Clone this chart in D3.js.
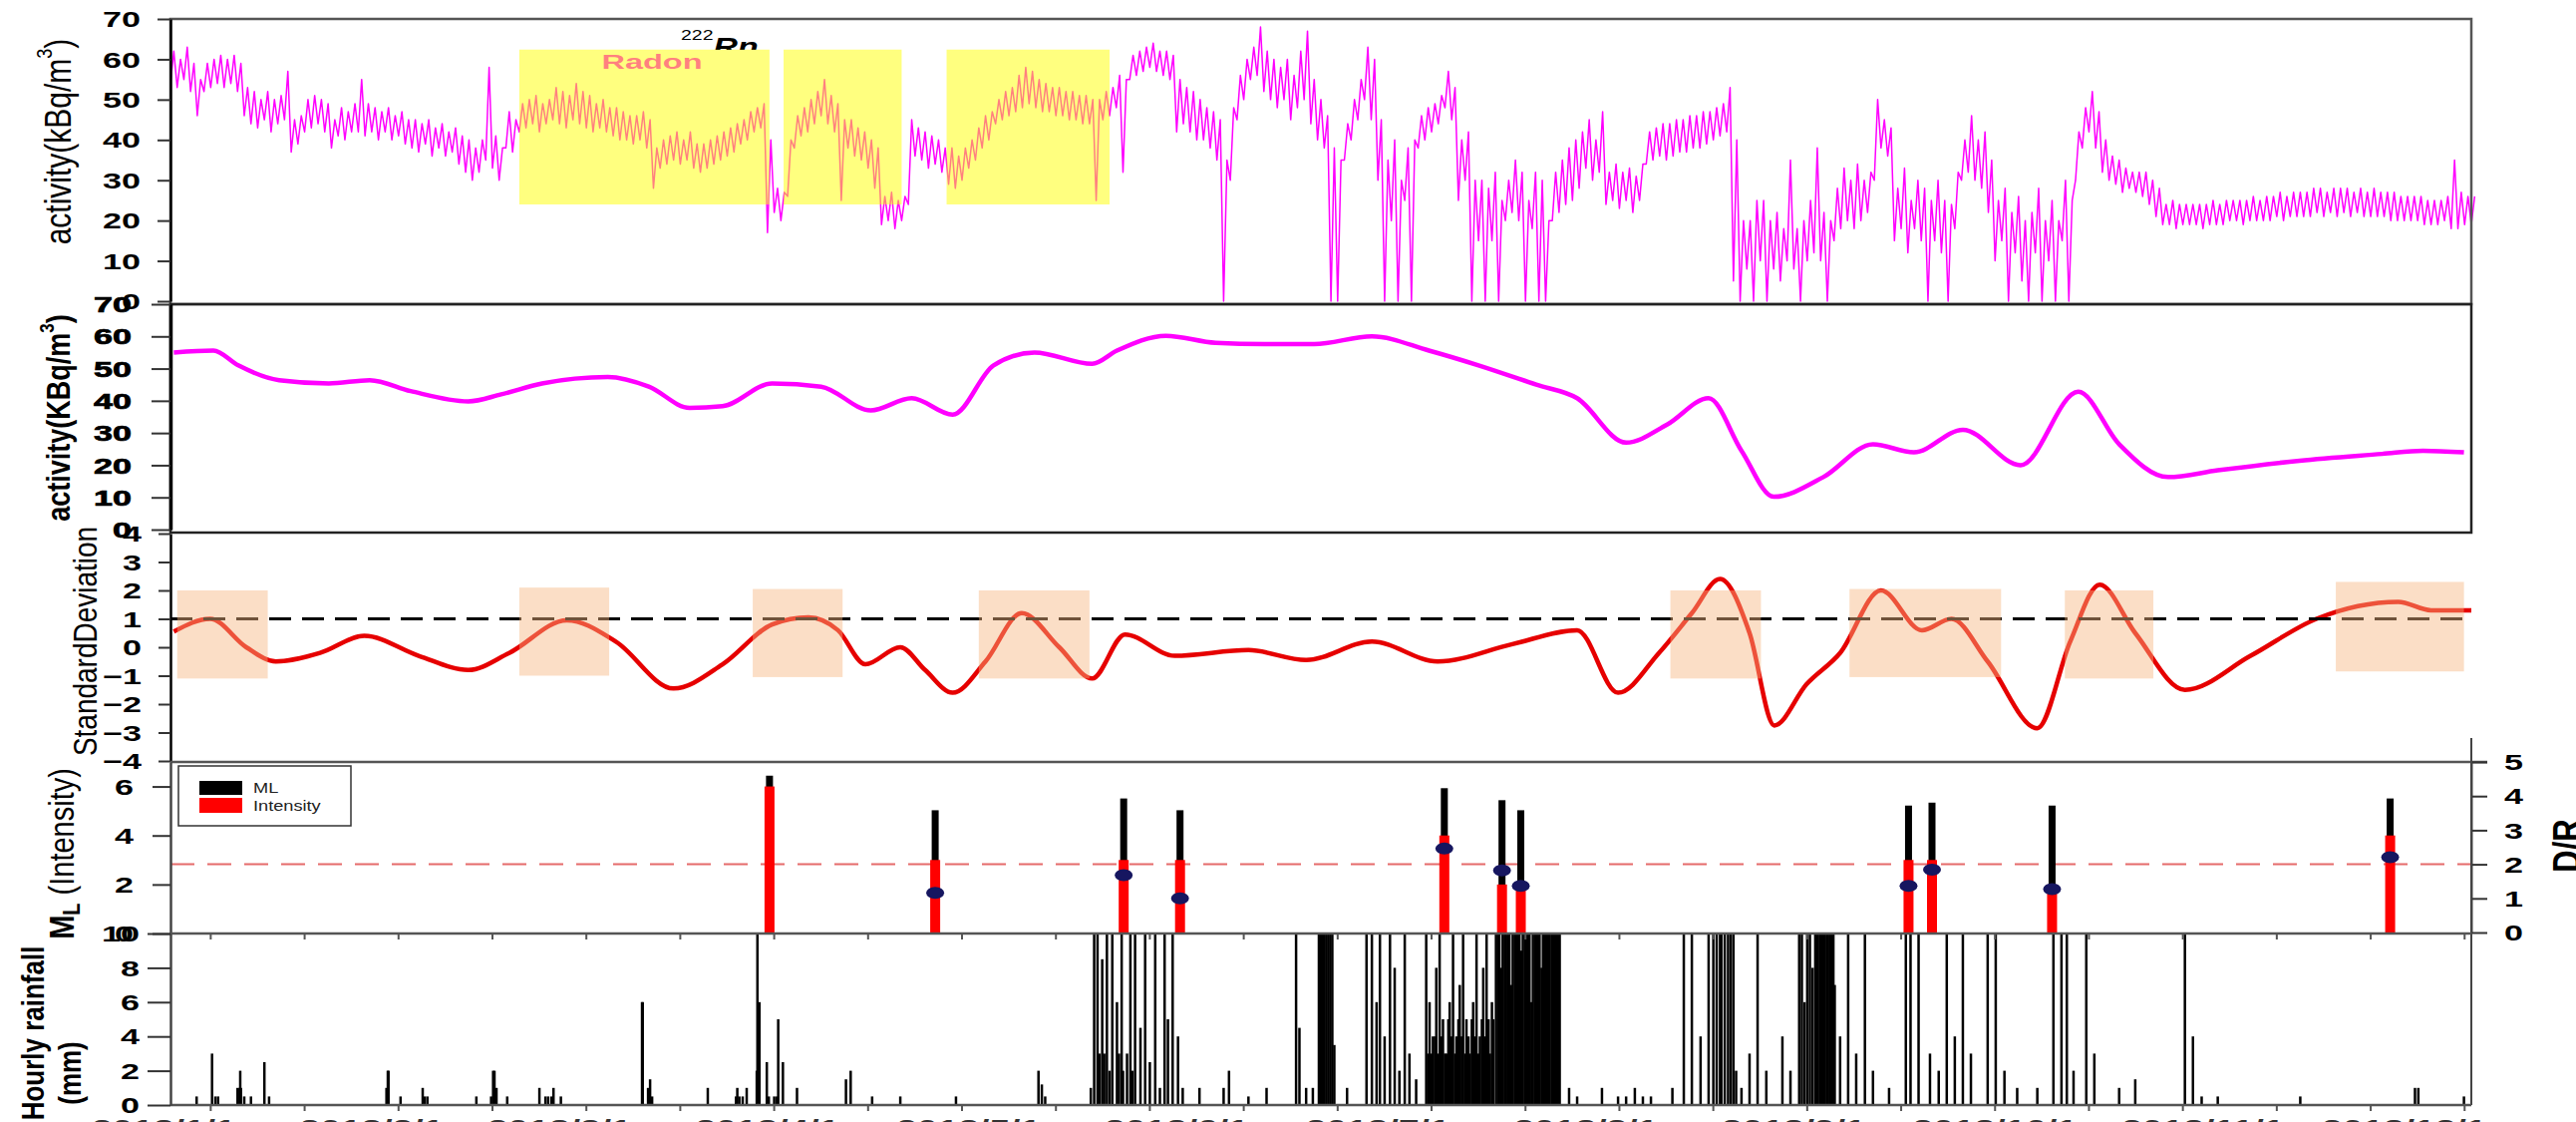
<!DOCTYPE html>
<html><head><meta charset="utf-8">
<script src="https://cdn.jsdelivr.net/npm/d3@7"></script>
<style>html,body{margin:0;padding:0;background:#fff;overflow:hidden}svg{display:block}</style>
</head><body>
<svg id="c" width="2584" height="1125"></svg>
<script>
// ---------------- DATA ----------------
// raw 222Rn activity (kBq/m3): daily [low, high] readings, day index 0..343
const radonRaw = [
/*0*/ [54,62],[53,60],[55,63],[52,59],[46,55],[52,59],[53,60],[54,61],[53,60],[54,61],
/*10*/[52,59],[46,53],[44,52],[43,50],[45,52],[42,50],[44,51],[45,57],[37,45],[39,46],
/*20*/[42,50],[43,51],[44,50],[42,49],[38,45],[41,48],[40,47],[42,49],[42,55],[41,49],
/*30*/[42,48],[40,47],[42,48],[40,46],[41,47],[39,45],[38,45],[37,44],[39,45],[36,43],
/*40*/[38,44],[36,42],[37,43],[34,41],[32,40],[30,38],[32,40],[35,58],[33,41],[30,38],
/*50*/[38,47],[37,45],[42,49],[43,50],[44,51],[42,49],[44,50],[45,53],[44,52],[43,51],
/*60*/[45,54],[44,52],[43,51],[42,49],[43,50],[42,48],[41,48],[40,47],[40,46],[39,46],
/*70*/[40,47],[38,45],[28,38],[33,40],[34,41],[35,42],[34,40],[35,42],[33,39],[32,39],
/*80*/[33,40],[34,41],[35,42],[36,43],[37,44],[39,45],[40,47],[42,48],[43,49],[17,40],
/*90*/[22,28],[20,27],[26,40],[38,46],[41,48],[42,50],[44,52],[46,55],[44,51],[42,49],
/*100*/[25,45],[38,45],[36,43],[35,42],[33,40],[28,38],[19,26],[20,27],[18,25],[20,26],
/*110*/[24,45],[36,43],[35,42],[33,41],[34,40],[32,38],[29,38],[28,36],[30,38],[33,40],
/*120*/[35,43],[38,46],[40,47],[44,50],[45,52],[46,53],[47,56],[48,58],[49,57],[48,55],
/*130*/[47,54],[47,53],[46,53],[46,52],[45,52],[45,51],[44,51],[44,50],[25,50],[45,52],
/*140*/[46,53],[48,56],[32,55],[55,61],[56,62],[57,63],[58,64],[57,62],[56,62],[55,61],
/*150*/[42,55],[44,53],[42,52],[40,50],[40,48],[38,47],[35,45],[0,35],[30,48],[45,56],
/*160*/[50,60],[55,63],[56,68],[52,62],[50,60],[48,58],[50,60],[45,56],[48,62],[50,67],
/*170*/[44,55],[40,50],[38,46],[0,38],[0,35],[35,44],[40,50],[45,55],[50,63],[45,60],
/*180*/[30,45],[0,35],[20,40],[0,30],[25,38],[0,40],[38,46],[40,48],[42,49],[44,51],
/*190*/[48,57],[45,53],[25,40],[30,42],[0,30],[15,30],[0,28],[15,32],[0,25],[20,30],
/*200*/[22,35],[20,32],[0,25],[18,32],[0,30],[0,20],[20,32],[22,35],[24,38],[25,40],
/*210*/[28,42],[33,45],[30,40],[32,47],[24,32],[25,34],[23,32],[25,33],[22,31],[25,34],
/*220*/[34,42],[35,43],[36,44],[35,44],[36,45],[37,45],[37,46],[38,46],[38,47],[39,47],
/*230*/[40,48],[41,49],[42,53],[5,40],[0,20],[8,20],[0,25],[10,25],[0,20],[8,22],
/*240*/[5,18],[10,35],[8,18],[0,20],[10,25],[12,38],[10,22],[0,20],[15,28],[18,33],
/*250*/[20,30],[18,34],[20,30],[22,32],[30,50],[38,45],[36,43],[15,28],[18,33],[12,25],
/*260*/[18,30],[15,28],[0,25],[15,30],[12,25],[0,24],[18,32],[30,40],[32,46],[30,40],
/*270*/[28,42],[22,35],[10,25],[15,28],[0,22],[12,26],[5,20],[0,22],[12,28],[0,20],
/*280*/[10,25],[0,20],[15,30],[0,25],[30,42],[38,48],[42,52],[38,47],[32,40],[30,36],
/*290*/[29,35],[27,33],[28,32],[27,32],[26,32],[24,30],[21,28],[19,24],[19,25],[18,24],
/*300*/[19,24],[19,24],[19,24],[18,24],[19,25],[19,24],[19,25],[20,25],[20,25],[19,25],
/*310*/[20,26],[20,25],[20,26],[20,26],[21,27],[20,26],[21,27],[21,27],[21,27],[21,28],
/*320*/[22,28],[21,27],[22,28],[21,28],[22,28],[21,27],[22,28],[21,27],[21,28],[21,27],
/*330*/[21,27],[20,27],[20,26],[20,26],[20,26],[20,26],[19,25],[19,25],[19,25],[20,26],
/*340*/[18,35],[18,27],[19,26],[19,26]];
// highlighted radon windows [startDay, endDay]
const radonBoxes = [[52,89.3],[91.4,109],[115.7,140]];
const radonBoxRange = [24,62.4];

// smoothed radon [day, kBq/m3]
const smoothed = [[0.5,55],[6.4,55.6],[10.1,51],[16.2,46.4],[23.6,45.4],[29.7,46.4],[35.8,43],[44.4,39.8],[49.3,42],[55.4,45.4],[65.2,47.4],[71.3,44.4],[77.4,37.8],[82.3,38.3],[89.7,45.4],[97,44.4],[104.4,37],[110.5,40.8],[116.6,35.7],[122.7,51],[128.8,55],[137.4,51.5],[141.1,55.6],[148.4,60.2],[155.8,58],[163.1,57.6],[170.5,57.6],[179.1,60],[187.6,55.6],[195,51],[203.6,45],[209.7,40.8],[217,27],[223.1,32.6],[229.3,40.8],[234.2,24.5],[239,10.2],[246.4,16.3],[253.8,26.5],[259.9,24],[267.2,31],[275.8,20],[284.4,42.8],[290.5,26.5],[297.8,16.3],[305.2,18.4],[317.4,21.4],[329.7,23.5],[335.8,24.5],[341.9,24]];

// standard deviation [day, sigma]
const sdev = [[0.5,0.55],[5.9,1.0],[11.3,0.0],[15.7,-0.5],[22.3,-0.2],[28.9,0.4],[37.0,-0.3],[44.4,-0.8],[50.5,-0.2],[59.1,0.95],[66.4,0.2],[75.0,-1.45],[82.3,-0.6],[89.7,0.8],[95.1,1.05],[99.5,0.6],[103.6,-0.6],[108.8,0.0],[112.5,-0.8],[116.6,-1.6],[121.5,-0.5],[126.9,1.2],[132.5,0.0],[137.4,-1.1],[142.3,0.45],[149.7,-0.3],[160.7,-0.1],[169.3,-0.45],[179.1,0.2],[188.9,-0.5],[199.9,0.1],[209.7,0.6],[215.8,-1.6],[221.9,-0.2],[226.8,1.2],[231.0,2.4],[235.4,0.5],[239.1,-2.75],[243.9,-1.3],[248.9,-0.2],[255.0,2.0],[261.1,0.6],[265.5,1.0],[270.9,-0.5],[278.3,-2.85],[283.2,0.2],[287.6,2.2],[292.9,0.5],[300.3,-1.5],[310.1,-0.3],[319.9,1.0],[332.1,1.6],[337.0,1.3],[343,1.3]];
// anomaly windows [startDay, endDay, lowSigma, highSigma]
const sdBoxes = [[1.0,14.5,-1.1,2.0],[52.0,65.4,-1.0,2.1],[86.8,100.2,-1.05,2.05],[120.5,137.0,-1.1,2.0],[223.6,237.1,-1.1,2.0],[250.3,272.9,-1.05,2.05],[282.4,295.6,-1.1,2.0],[322.8,341.9,-0.85,2.3]];
const sdThreshold = 1;

// earthquakes
const eqDay       = [89.3,114.0,142.1,150.5,189.9,198.5,201.3,259.1,262.6,280.5,330.9];
const eqML        = [6.44,5.03,5.51,5.03,5.93,5.44,5.03,5.22,5.34,5.22,5.51];
const eqIntensity = [6,3,3,3,4,2,2,3,3,2,4];
const eqDR        = [null,1.16,1.68,1.0,2.46,1.82,1.37,1.37,1.84,1.27,2.21];
const drThreshold = 2;

// hourly rainfall [day, mm]
const rainfall = [[3.9,0.5],[6.2,3.0],[6.7,0.5],[7.1,0.5],[10.0,1.0],[10.3,1.0],[10.4,2.0],[10.5,1.0],[11.0,0.5],[12.0,0.5],[14.0,2.5],[14.7,0.5],
[32.2,1.0],[32.4,2.0],[32.5,2.0],[34.3,0.5],[37.6,1.0],[37.9,0.5],[38.3,0.5],[45.6,0.5],[47.8,0.5],[48.1,2.0],[48.3,2.0],[48.6,1.0],[50.2,0.5],
[55.0,1.0],[55.9,0.5],[56.3,0.5],[56.8,0.5],[57.1,1.0],[58.2,0.5],[70.3,6.0],[70.4,6.0],[71.2,1.0],[71.5,1.5],[71.8,0.5],[80.1,1.0],
[84.3,0.5],[84.5,1.0],[84.8,0.5],[85.3,0.5],[85.9,1.0],[87.4,2.0],[87.5,10],[87.7,5.5],[87.8,6.0],[88.9,2.5],[89.2,0.5],[90.0,0.5],[90.4,0.5],[90.6,5.0],[91.3,2.5],
[93.4,1.0],[100.7,1.5],[101.4,2.0],[104.6,0.5],[108.8,0.5],[117.1,0.5],[129.4,2.0],[129.9,1.2],[130.4,0.5],
[137.2,1],[137.7,10],[138.2,10],[138.5,3],[138.9,8.5],[139.2,3],[139.6,10],[140.0,2],[140.4,10],[141.1,6],[141.4,3],[141.8,10],[142.0,2],[142.6,3],[143.1,10],[143.4,2],[143.8,10],[144.6,4.5],[145.3,10],[146.0,2.5],[146.8,10],[147.5,1],[148.2,10],[148.7,5],[149.4,10],[150.2,4],[150.9,1],
[153.4,1.0],[157.0,1.0],[157.8,2.0],[160.7,0.5],[163.4,1.0],[167.8,10],[168.3,4.5],[169.3,1.0],[170.3,1.0],[171.2,10],[171.5,10],[171.8,10],[172.0,10],[172.3,10],[172.6,10],[172.9,10],[173.2,10],[173.5,3.5],
[175.4,1.0],[178.3,10],[179.1,10],[179.8,6],[180.3,10],[181.0,4],[181.8,10],[182.5,8],[183.2,2],[184.0,10],[184.7,3],[185.7,1.5],
[187.2,10],[187.5,3],[187.7,6],[188.0,3],[188.2,4],[188.5,4],[188.7,8],[189.0,3],[189.2,10],[189.5,4],[189.7,5],[190.0,3],[190.2,3],[190.5,5],[190.7,6],[191.0,4],[191.2,10],[191.5,3],[191.7,4],[192.0,5],[192.2,7],[192.5,4],[192.7,10],[193.0,3],[193.2,5],[193.5,4],[193.7,3],[194.0,5],[194.2,6],[194.5,4],[194.7,10],[195.0,3],[195.2,4],[195.5,5],[195.7,8],[196.0,4],[196.2,10],[196.5,5],[196.7,3],[197.0,6],[197.2,5],
[197.6,10],[197.9,10],[198.1,10],[198.4,8],[198.6,10],[198.9,10],[199.1,10],[199.4,10],[199.6,10],[199.9,7],[200.1,10],[200.4,10],[200.6,10],[200.9,10],[201.1,10],[201.4,9],[201.6,10],[201.9,10],[202.1,10],[202.4,10],[202.6,10],[202.9,6],[203.1,10],[203.4,10],[203.6,10],[203.9,10],[204.1,10],[204.4,8],[204.6,10],[204.9,10],[205.1,10],[205.4,10],[205.6,10],[205.9,10],[206.1,10],[206.4,10],[206.6,10],[206.9,10],[207.1,10],
[208.5,1.0],[209.7,0.5],[213.4,1.0],[215.8,0.5],[217.0,0.5],[218.3,1.0],[219.5,0.5],[220.7,0.5],[223.9,1.0],
[225.6,10],[226.8,10],[228.1,4],[229.3,10],[230.0,10],[230.5,10],[231.0,10],[231.2,10],[231.7,10],[232.2,10],[232.6,10],[233.0,10],[233.4,2],[234.2,1],
[235.4,3],[236.6,10],[237.9,2],[240.3,4],[241.5,2],[242.8,10],[243.2,10],[243.6,6],[244.0,10],[244.4,10],[244.8,8],[245.2,10],[245.4,10],[245.6,10],[245.9,10],[246.1,10],[246.4,10],[246.6,10],[246.9,10],[247.1,10],[247.4,10],[247.6,10],[247.9,10],[248.1,7],
[248.9,4],[250.1,10],[251.3,3],[252.6,10],[253.8,2],[256.2,1],[258.7,10],[259.4,10],[260.6,10],[262.3,3],[263.6,2],[264.8,10],[266.0,4],[267.2,10],[268.4,3],[270.9,10],[272.1,10],[273.4,2],
[275.3,1],[278.3,1],[280.7,10],[281.9,10],[282.7,10],[283.7,2],[285.6,10],[286.8,3],[290.5,1],[292.9,1.5],[300.3,10],[301.5,4],[302.8,0.5],[305.2,0.5],[317.5,0.5],[334.6,1.0],[335.1,1.0],[341.9,0.5]];

// time axis
const dateLabels    = ["2018/1/1","2018/2/1","2018/3/1","2018/4/1","2018/5/1","2018/6/1","2018/7/1","2018/8/1","2018/9/1","2018/10/1","2018/11/1","2018/12/1"];
const dateLabelDays = [-1,30,58,89,119,150,180,211,242,272,303,333];
const minorTickDays = [6,20,34,48,62,76,90,104,118,132,146,160,174,188,202,216,230,244,258,272,286,300,314,328,342];

// ---------------- LAYOUT ----------------
const svg = d3.select('#c');
const L = 171, R = 2479, SX = 1.55, TICKF = 22;
const FONT = '"Liberation Sans", Arial, sans-serif';
const x = d3.scaleLinear().domain([0, 343]).range([L, R]);

const y1 = d3.scaleLinear().domain([0,70]).range([302,19]);
const y2 = d3.scaleLinear().domain([0,70]).range([531,305]);
const y3 = d3.scaleLinear().domain([-4,4]).range([763,535]);
const yML = d3.scaleLinear().domain([0,7]).range([936,764]);
const yDR = d3.scaleLinear().domain([0,5]).range([935,764]);
const yR = d3.scaleLinear().domain([0,10]).range([1108,936]);

function stretchAxis(g, ts, pad, size, side) {
  g.selectAll('.tick text').attr('x',0).attr('dy',null)
    .attr('dominant-baseline','central')
    .attr('transform',`translate(${side==='left'?-(ts+pad):(ts+pad)},0) scale(${SX},1)`)
    .style('font-family',FONT).style('font-size',size+'px').style('font-weight','bold').attr('fill','#000');
  g.selectAll('.tick line').attr('stroke','#333').attr('stroke-width',2);
  g.select('.domain').attr('stroke','#000').attr('stroke-width',2.5);
}
function yAxis(scale, ticks, ts, pad, size, extra) {
  const g = svg.append('g').attr('transform',`translate(${L},0)`)
    .call(d3.axisLeft(scale).tickValues(ticks).tickSize(ts).tickSizeOuter(0).tickFormat(d3.format('d')));
  stretchAxis(g, ts, pad, size, 'left');
  if (extra) extra(g);
  return g;
}
function rotText(cx, cy, size, weight, sx) {
  return svg.append('text').attr('transform',`translate(${cx},${cy}) scale(${sx},1) rotate(-90)`)
    .attr('text-anchor','middle').attr('dominant-baseline','central')
    .style('font-family',FONT).style('font-size',size+'px').style('font-weight',weight).attr('fill','#000');
}

// ---------- Panel 1 : raw radon ----------
svg.append('clipPath').attr('id','clipRn').append('rect').attr('x',0).attr('y',0).attr('width',2584).attr('height',50);
svg.append('g').attr('clip-path','url(#clipRn)').append('text')
  .attr('transform',`translate(683,56) scale(1.3,1)`)
  .style('font-family',FONT).attr('fill','#000')
  .call(t=>{t.append('tspan').style('font-size','15px').attr('dy',-16).text('222');
            t.append('tspan').style('font-size','26px').style('font-weight','bold').style('font-style','italic').attr('dy',16).text('Rn');});
const rawPts = [];
radonRaw.forEach((d,i)=>{ rawPts.push([i, d[0]]); rawPts.push([i+0.5, d[1]]); });
svg.append('path').datum(rawPts)
  .attr('fill','none').attr('stroke','#ff00ff').attr('stroke-width',1.5).attr('stroke-linejoin','round')
  .attr('d', d3.line().x(d=>x(d[0])).y(d=>y1(d[1])));
svg.append('text').attr('transform',`translate(654,62) scale(${SX},1)`).attr('text-anchor','middle').attr('dominant-baseline','central')
  .style('font-family',FONT).style('font-size','21px').style('font-weight','bold').attr('fill','#ff00ff').text('Radon');
svg.selectAll('rect.rnbox').data(radonBoxes).enter().append('rect')
  .attr('x',d=>x(d[0])).attr('width',d=>x(d[1])-x(d[0]))
  .attr('y',y1(radonBoxRange[1])).attr('height',y1(radonBoxRange[0])-y1(radonBoxRange[1]))
  .attr('fill','#ffff00').attr('opacity',0.5);
svg.append('rect').attr('x',L).attr('y',19).attr('width',R-L).attr('height',286).attr('fill','none').attr('stroke','#555').attr('stroke-width',2.5);
yAxis(y1, d3.range(0,71,10), 13, 17, TICKF);
rotText(58,142,30,'normal',1.2).call(t=>{t.append('tspan').text('activity(kBq/m');t.append('tspan').attr('dy',-11).style('font-size','18px').text('3');t.append('tspan').attr('dy',11).text(')');});

// ---------- Panel 2 : smoothed ----------
svg.append('path').datum(smoothed)
  .attr('fill','none').attr('stroke','#ff00ff').attr('stroke-width',4.5)
  .attr('d', d3.line().x(d=>x(d[0])).y(d=>y2(d[1])).curve(d3.curveMonotoneX));
svg.append('rect').attr('x',L).attr('y',305).attr('width',R-L).attr('height',229).attr('fill','none').attr('stroke','#222').attr('stroke-width',2.5);
yAxis(y2, d3.range(0,71,10), 19, 20, TICKF, g=>{g.select('.domain').attr('stroke-width',3.5);g.selectAll('.tick text').attr('stroke','#000').attr('stroke-width',0.7);});
rotText(58,419,27,'bold',1.2).call(t=>{t.append('tspan').text('activity(KBq/m');t.append('tspan').attr('dy',-10).style('font-size','17px').text('3');t.append('tspan').attr('dy',10).text(')');});

// ---------- Panel 3 : standard deviation ----------
svg.append('path').datum(sdev)
  .attr('fill','none').attr('stroke','#e60000').attr('stroke-width',4.5)
  .attr('d', d3.line().x(d=>x(d[0])).y(d=>y3(d[1])).curve(d3.curveMonotoneX));
svg.append('line').attr('x1',L).attr('x2',R).attr('y1',y3(sdThreshold)).attr('y2',y3(sdThreshold))
  .attr('stroke','#000').attr('stroke-width',3).attr('stroke-dasharray','22,11');
svg.selectAll('rect.sdbox').data(sdBoxes).enter().append('rect')
  .attr('x',d=>x(d[0])).attr('width',d=>x(d[1])-x(d[0]))
  .attr('y',d=>y3(d[3])).attr('height',d=>y3(d[2])-y3(d[3]))
  .attr('fill','#f7b680').attr('opacity',0.45);
yAxis(y3, d3.range(-4,5,1), 12, 17, TICKF);
rotText(86,643,28,'normal',1.2).text('StandardDeviation');

// ---------- Panel 4 : earthquakes ----------
svg.append('line').attr('x1',L).attr('x2',R+16).attr('y1',764).attr('y2',764).attr('stroke','#555').attr('stroke-width',2.5);
svg.append('line').attr('x1',L).attr('x2',R).attr('y1',yDR(drThreshold)).attr('y2',yDR(drThreshold))
  .attr('stroke','#e56b6b').attr('stroke-width',2).attr('stroke-dasharray','24,13');
const eq = eqDay.map((d,i)=>({day:d, ml:eqML[i], it:eqIntensity[i], dr:eqDR[i]}));
svg.selectAll('rect.ml').data(eq).enter().append('rect')
  .attr('x',d=>x(d.day)-3.5).attr('width',7).attr('y',d=>yML(d.ml)).attr('height',d=>yML(0)-yML(d.ml)).attr('fill','#000');
svg.selectAll('rect.it').data(eq).enter().append('rect')
  .attr('x',d=>x(d.day)-5).attr('width',10).attr('y',d=>yML(d.it)).attr('height',d=>yML(0)-yML(d.it)).attr('fill','#ff0000');
svg.selectAll('ellipse.dr').data(eq.filter(d=>d.dr!=null)).enter().append('ellipse')
  .attr('cx',d=>x(d.day)).attr('cy',d=>yDR(d.dr)).attr('rx',9).attr('ry',6).attr('fill','#161660');
yAxis(yML, [0,2,4,6], 18, 19, TICKF, g=>g.select('.domain').attr('stroke','#444'));
{
  const g = svg.append('g').attr('transform',`translate(${R},0)`)
    .call(d3.axisRight(yDR).tickValues([0,1,2,3,4,5]).tickSize(16).tickSizeOuter(0).tickFormat(d3.format('d')));
  stretchAxis(g, 16, 17, TICKF, 'right');
  g.selectAll('.tick text').attr('text-anchor','start');
  g.select('.domain').attr('stroke','#444').attr('stroke-width',2);
}
svg.append('line').attr('x1',R).attr('x2',R).attr('y1',740).attr('y2',1108).attr('stroke','#444').attr('stroke-width',2);
rotText(2574,848,31,'bold',1.25).text('D/R');
rotText(62,856,29,'normal',1.2).call(t=>{
  t.append('tspan').style('font-weight','bold').text('M');
  t.append('tspan').style('font-weight','bold').style('font-size','20px').attr('dy',8).text('L');
  t.append('tspan').attr('dy',-8).text('\u00a0(Intensity)');
});
// legend
svg.append('rect').attr('x',179).attr('y',768).attr('width',173).attr('height',60).attr('fill','#fff').attr('stroke','#333').attr('stroke-width',1.5);
svg.append('rect').attr('x',200).attr('y',783).attr('width',43).attr('height',14).attr('fill','#000');
svg.append('rect').attr('x',200).attr('y',800).attr('width',43).attr('height',15).attr('fill','#ff0000');
[['ML',790],['Intensity',808]].forEach(([s,yy])=>svg.append('text').attr('transform',`translate(254,${yy}) scale(1.3,1)`)
  .attr('dominant-baseline','central').style('font-family',FONT).style('font-size','14px').attr('fill','#222').text(s));

// ---------- Panel 5 : rainfall ----------
svg.selectAll('line.rain').data(rainfall).enter().append('line')
  .attr('x1',d=>x(d[0])).attr('x2',d=>x(d[0])).attr('y1',yR(0)).attr('y2',d=>yR(Math.min(d[1],10)))
  .attr('stroke','#000').attr('stroke-width',2.5);
svg.append('line').attr('x1',L).attr('x2',R).attr('y1',936).attr('y2',936).attr('stroke','#555').attr('stroke-width',2.5);
svg.append('line').attr('x1',L).attr('x2',R).attr('y1',1108).attr('y2',1108).attr('stroke','#555').attr('stroke-width',2.5);
[936,1108].forEach(yy=>svg.selectAll(null).data(minorTickDays).enter().append('line')
  .attr('x1',d=>x(d)).attr('x2',d=>x(d)).attr('y1',yy).attr('y2',yy+6).attr('stroke','#555').attr('stroke-width',2));
yAxis(yR, d3.range(0,11,2), 23, 8, TICKF, g=>g.select('.domain').attr('stroke','#444'));
rotText(33,1036,26,'bold',1.2).text('Hourly rainfall');
rotText(70,1076,26,'bold',1.2).text('(mm)');

// bottom date labels (cut by the page edge)
svg.selectAll('text.date').data(dateLabels).enter().append('text')
  .attr('transform',(d,i)=>`translate(${x(dateLabelDays[i])},1140) scale(${SX},1)`)
  .attr('text-anchor','middle').style('font-family',FONT).style('font-size','24px').style('font-weight','bold').attr('fill','#333').text(d=>d);
</script>
</body></html>
